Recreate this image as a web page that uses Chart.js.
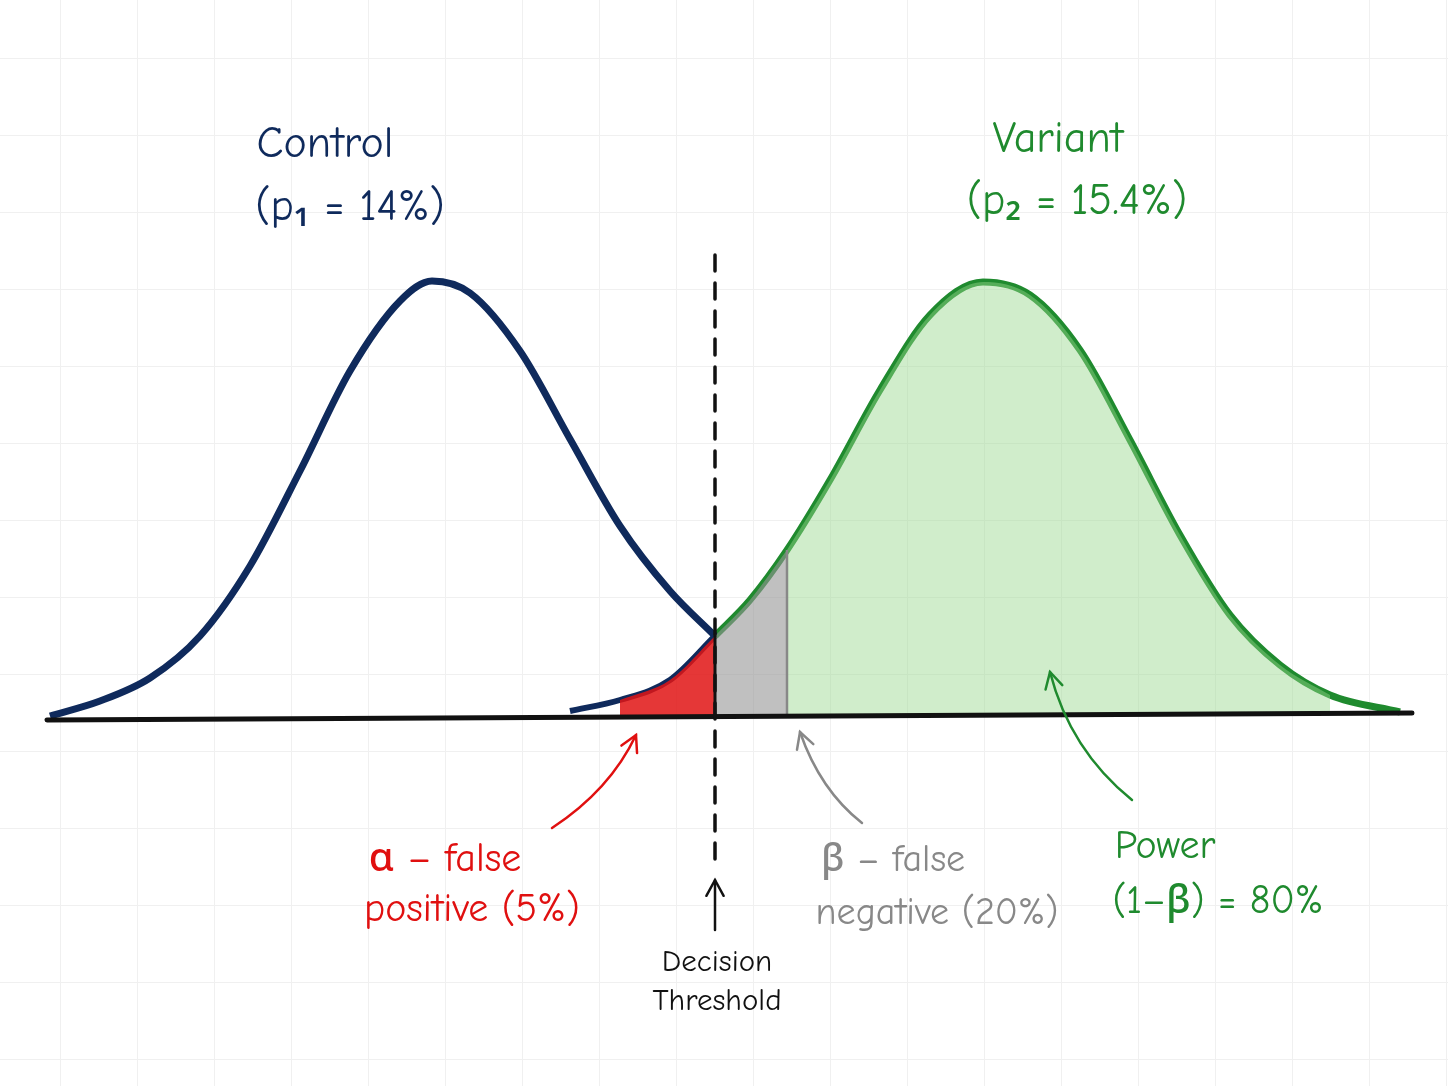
<!DOCTYPE html>
<html><head><meta charset="utf-8">
<script src="https://cdn.jsdelivr.net/npm/chart.js@4/dist/chart.umd.min.js"></script>
<style>
html,body{margin:0;padding:0;background:#fff;}
body{width:1448px;height:1086px;overflow:hidden;background-image:linear-gradient(#f0f0f0 1px,transparent 1px),linear-gradient(90deg,#f0f0f0 1px,transparent 1px);background-size:77px 77px;background-position:60px 58px;}
#c{position:absolute;left:0;top:0;width:1448px;height:1086px;}
</style></head><body>
<canvas id="c" width="1448" height="1086"></canvas>
<script>
// positions along the axis and curve heights
const controlX = [50,100,150,200,250,300,350,400,432,470,520,570,620,670,715];
const controlY = [0,15,38,80,150,245,345,415,435,423,365,277,190,125,80];
const variantX = [570,620,670,715,750,787,830,880,930,983,1030,1080,1130,1180,1230,1280,1330,1400];
const variantY = [5,16,36,80,116,166,236,326,401,434,421,366,276,181,101,51,21,4];
const threshold = 715;
const betaEnd = 787;
const powerEnd = 1330;

const pts = (xs,ys,f)=>xs.map((x,i)=>({x,y:ys[i]})).filter(p=>f(p.x));
const ctrl = pts(controlX,controlY,()=>true);
const tail = pts(variantX,variantY,x=>x<=threshold);
const alphaFill = pts(variantX,variantY,x=>x>=620&&x<=threshold);
const betaFill = pts(variantX,variantY,x=>x>=threshold&&x<=betaEnd);
const powerFill = pts(variantX,variantY,x=>x>=betaEnd&&x<=powerEnd);
const varMain = pts(variantX,variantY,x=>x>=threshold);

const font='"Comic Neue","Noto Sans",sans-serif';
const deco={id:'deco',afterDatasetsDraw(ch){
  const c=ch.ctx,xs=ch.scales.x,ys=ch.scales.y;
  const X=v=>xs.getPixelForValue(v),Y=v=>ys.getPixelForValue(v);
  c.save();
  c.strokeStyle='#888';c.lineWidth=2.5;c.beginPath();c.moveTo(X(betaEnd),Y(166));c.lineTo(X(betaEnd),Y(0));c.stroke();
  c.strokeStyle='#111';c.lineWidth=3;c.beginPath();c.moveTo(X(threshold),Y(80));c.lineTo(X(threshold),Y(0));c.stroke();
  c.lineWidth=5;c.strokeStyle='#111';c.lineCap='round';
  c.beginPath();c.moveTo(47,720);c.lineTo(1412,713);c.stroke();
  c.lineWidth=3.5;c.setLineDash([16,12]);c.beginPath();c.moveTo(X(threshold),255);c.lineTo(X(threshold),870);c.stroke();c.setLineDash([]);
  function arrow(pts,col){c.strokeStyle=col;c.lineWidth=2.5;c.beginPath();c.moveTo(pts[0][0],pts[0][1]);
    if(pts.length==3)c.quadraticCurveTo(pts[1][0],pts[1][1],pts[2][0],pts[2][1]);else c.lineTo(pts[1][0],pts[1][1]);c.stroke();
    const e=pts[pts.length-1],p=pts[pts.length-2];const a=Math.atan2(e[1]-p[1],e[0]-p[0]);
    c.beginPath();c.moveTo(e[0]-18*Math.cos(a-0.5),e[1]-18*Math.sin(a-0.5));c.lineTo(e[0],e[1]);c.lineTo(e[0]-18*Math.cos(a+0.5),e[1]-18*Math.sin(a+0.5));c.stroke();}
  arrow([[715,930],[715,880]],'#111');
  arrow([[552,828],[610,790],[636,735]],'#e01010');
  arrow([[862,823],[820,790],[800,732]],'#888');
  arrow([[1132,800],[1070,750],[1050,672]],'#1f8a2e');
  c.textAlign='center';c.textBaseline='middle';
  const t=(s,x,y,col,sz)=>{c.fillStyle=col;c.font='500 '+sz+'px '+font;c.fillText(s,x,y);};
  t('Control',325,145,'#0f2a5c',44);t('(p₁ = 14%)',350,208,'#0f2a5c',44);
  t('Variant',1058,140,'#1f8a2e',44);t('(p₂ = 15.4%)',1077,202,'#1f8a2e',44);
  t('α – false',445,860,'#e01010',40);t('positive (5%)',472,910,'#e01010',40);
  t('β – false',893,860,'#888',38);t('negative (20%)',937,913,'#888',38);
  t('Power',1165,847,'#1f8a2e',40);t('(1–β) = 80%',1218,902,'#1f8a2e',40);
  t('Decision',717,962,'#111',31);t('Threshold',717,1001,'#111',31);
  c.restore();}};

const common={pointRadius:0,cubicInterpolationMode:'monotone'};
new Chart(document.getElementById('c'),{type:'line',
 data:{datasets:[
  {...common,data:powerFill,borderWidth:0,fill:'origin',backgroundColor:'rgba(150,215,140,0.45)'},
  {...common,data:betaFill,borderWidth:0,fill:'origin',backgroundColor:'rgba(150,150,150,0.6)'},
  {...common,data:alphaFill,borderWidth:0,fill:'origin',backgroundColor:'rgba(225,20,20,0.85)'},
  {...common,data:ctrl,borderColor:'#0f2a5c',borderWidth:7,fill:false},
  {...common,data:tail,borderColor:'#0f2a5c',borderWidth:6,fill:false},
  {...common,data:varMain,borderColor:'#1f8a2e',borderWidth:7,fill:false}
 ]},
 options:{responsive:false,animation:false,maintainAspectRatio:false,devicePixelRatio:1,
  layout:{padding:0},
  plugins:{legend:{display:false},tooltip:{enabled:false}},
  scales:{x:{type:'linear',min:0,max:1448,display:false},y:{min:-370,max:716,display:false}}},
 plugins:[deco]});
</script>
</body></html>
